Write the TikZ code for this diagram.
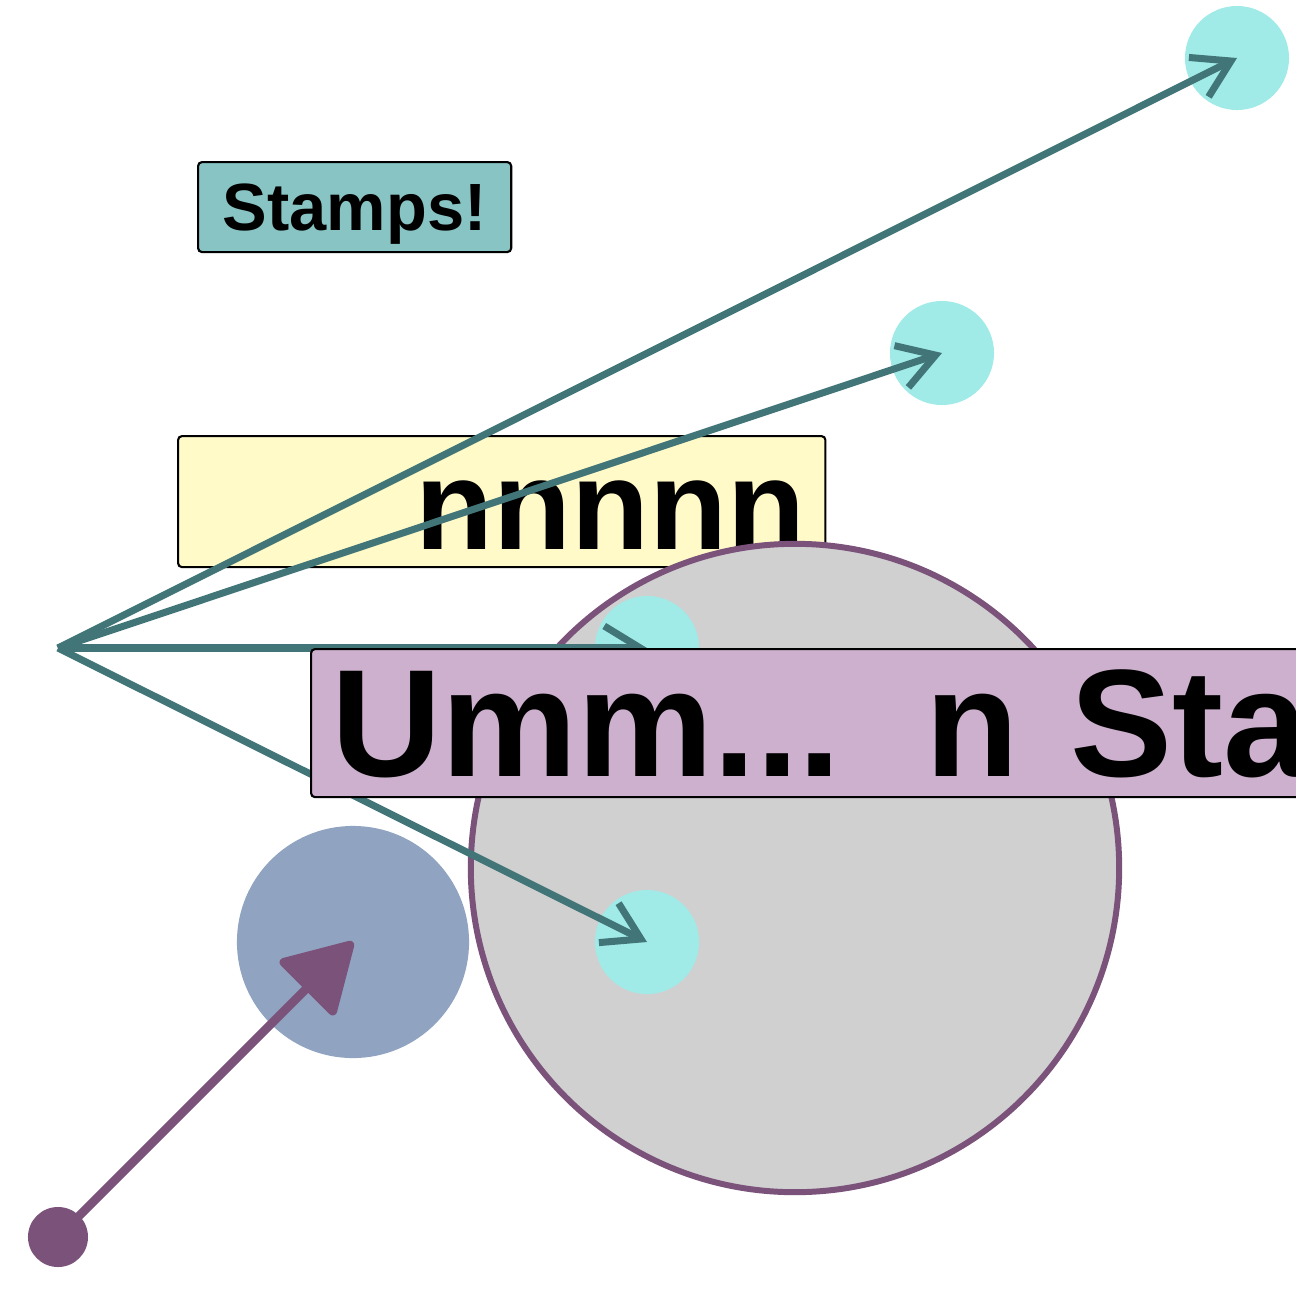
\documentclass[tikz,border=0pt]{standalone}
\usepackage{fontspec}
\setmainfont{Liberation Sans}
\usetikzlibrary{arrows.meta}

\definecolor{linkteal}{HTML}{427578}
\definecolor{spotcyan}{HTML}{A0EAE8}
\definecolor{plum}{HTML}{7A527A}
\definecolor{discgray}{HTML}{D0D0D0}
\definecolor{discblue}{HTML}{90A4C2}
\definecolor{tagpink}{HTML}{CDB0CD}
\definecolor{tagyellow}{HTML}{FFFAC8}
\definecolor{tagteal}{HTML}{88C4C4}

\begin{document}
\begin{tikzpicture}[x=0.01cm, y=-0.01cm,
    tag/.style={draw=black, line width=0.6pt, rounded corners=0.04cm, inner sep=0pt, anchor=north west, text depth=0pt},
    spot/.style={circle, fill=spotcyan, minimum size=1.04cm, inner sep=0pt},
    link/.style={draw=linkteal, line width=2pt, -{Straight Barb[length=0.36cm, width=0.44cm]}}]
  \useasboundingbox (0,0) rectangle (1296,1296);
  \clip (0,0) rectangle (1296,1296);
  % etiquettes du fond
  \node[tag, fill=tagteal, minimum width=3.13cm, minimum height=0.9cm, text height=0.46cm,
        font=\bfseries\fontsize{19pt}{19pt}\selectfont] (stamps) at (197,161) {Stamps!};
  \node[tag, fill=tagyellow, minimum width=6.47cm, minimum height=1.31cm, inner xsep=0.2cm,
        text width=6.07cm, align=right, text height=0.95cm,
        font=\bfseries\fontsize{36.3pt}{36.3pt}\selectfont] (nbox) at (177,435) {nnnnn};
  \node[circle, draw=plum, line width=1.7pt, fill=discgray, minimum size=6.48cm, inner sep=0pt] (disc) at (795,868) {};
  \node[circle, fill=discblue, minimum size=2.32cm, inner sep=0pt] (blob) at (353,942) {};
  % cibles et fleches depuis le meme point
  \coordinate (hub) at (58,648);
  \foreach \n/\x/\y in {a/1237/58, b/942/353, c/647/648, d/647/942} {
    \node[spot] (spot\n) at (\x,\y) {};
    \draw[link] (hub) -- (spot\n.center);
  }
  \node[tag, fill=tagpink, minimum width=11cm, minimum height=1.48cm, inner xsep=0.2cm,
        text width=10.6cm, align=left, text height=1.06cm,
        font=\bfseries\fontsize{43.5pt}{43.5pt}\selectfont] (umm) at (310,648) {Umm...\hspace{0.85cm}n Sta};
  \node[circle, fill=plum, minimum size=0.6cm, inner sep=0pt] (dot) at (58,1237) {};
  \draw[plum, line width=2.5pt, -{Triangle[length=0.72cm, width=0.82cm, round]}] (dot.center) -- (blob.center);
\end{tikzpicture}
\end{document}
